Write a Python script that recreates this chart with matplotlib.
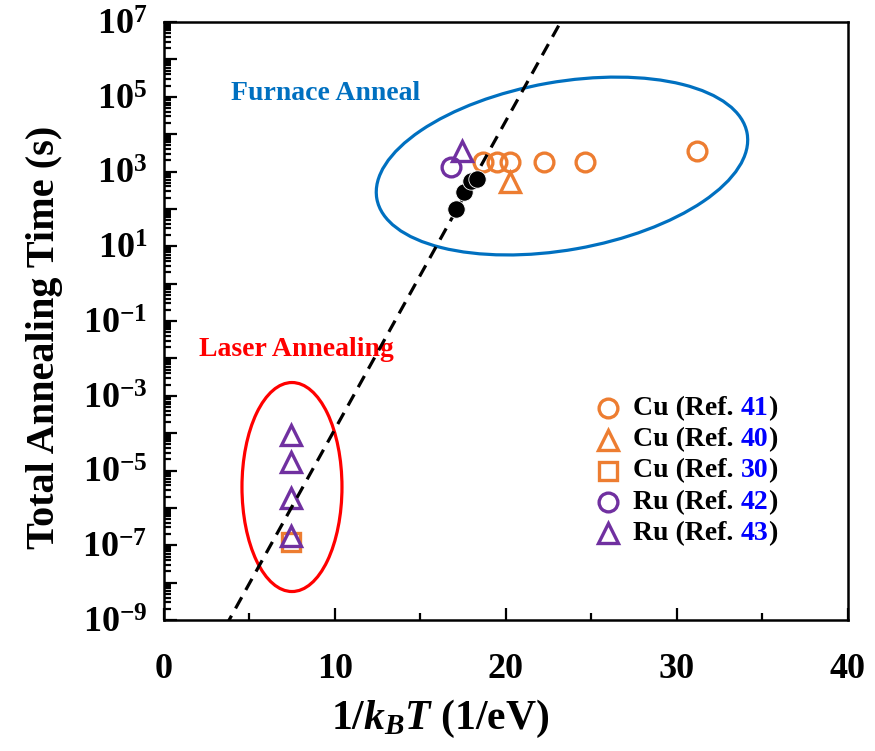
import numpy as np
import matplotlib
matplotlib.use('Agg')
import matplotlib.pyplot as plt
import matplotlib.transforms as mtransforms
from matplotlib.patches import Ellipse
from matplotlib.lines import Line2D
from matplotlib.ticker import LogLocator, FuncFormatter, MultipleLocator, NullFormatter
from matplotlib.offsetbox import AnchoredOffsetbox, HPacker, VPacker, TextArea, DrawingArea

plt.rcParams['font.family'] = ['Liberation Serif', 'DejaVu Serif']
plt.rcParams['font.weight'] = 'bold'
plt.rcParams['axes.labelweight'] = 'bold'
plt.rcParams['mathtext.fontset'] = 'custom'
plt.rcParams['mathtext.rm'] = 'Liberation Serif:bold'
plt.rcParams['mathtext.it'] = 'Liberation Serif:bold:italic'
plt.rcParams['mathtext.bf'] = 'Liberation Serif:bold'

ORANGE = '#ED7D31'
PURPLE = '#7030A0'
BLUE = '#0070C0'

# x = 1/kT (1/eV), t = total annealing time (s)
cu41_x = [18.65, 19.45, 20.25, 22.2, 24.6, 31.2]
cu41_t = [1800, 1800, 1800, 1800, 1800, 3600]
cu40_x = [20.25]
cu40_t = [540]
cu30_x = [7.45]
cu30_t = [1.2e-7]
ru42_x = [16.8]
ru42_t = [1300]
ru43_x = [17.4, 7.45, 7.45, 7.45, 7.45]
ru43_t = [3600, 9e-5, 1.7e-5, 1.8e-6, 1.8e-7]
fit_x = [17.1, 17.55, 17.95, 18.3]
fit_t = [100, 280, 560, 650]

# Arrhenius guide line t = t0*exp(Ea/kT)
Ea = 1.9
t0 = 7.2e-13

series = [
    (cu41_x, cu41_t, 'o', ORANGE, 'Cu', '41'),
    (cu40_x, cu40_t, '^', ORANGE, 'Cu', '40'),
    (cu30_x, cu30_t, 's', ORANGE, 'Cu', '30'),
    (ru42_x, ru42_t, 'o', PURPLE, 'Ru', '42'),
    (ru43_x, ru43_t, '^', PURPLE, 'Ru', '43'),
]
msize = {'o': 13.5, '^': 14, 's': 13}

fig = plt.figure(figsize=(8.75, 7.51), dpi=100)
ax = fig.add_axes([0.1874, 0.1744, 0.7817, 0.7963])
W, H = 0.7817*875, 0.7963*751
pix = mtransforms.Affine2D().scale(1/W, 1/H) + ax.transAxes

# guide line
xx = np.linspace(0, 40, 400)
ln, = ax.plot(xx, t0*np.exp(Ea*xx), color='k', lw=2.3, ls='--', zorder=4)
ln.set_dashes([4, 2.6])

# ellipses around the two regimes
ax.add_patch(Ellipse((398, 454), 376, 168, angle=10, transform=pix,
                     fill=False, ec=BLUE, lw=2.3, zorder=2))
ax.add_patch(Ellipse((128, 133), 100, 209, angle=0, transform=pix,
                     fill=False, ec='#FF0000', lw=2.3, zorder=2))
ax.text(0.237, 0.881, 'Furnace Anneal', color=BLUE, fontsize=20,
        ha='center', va='center', transform=ax.transAxes)
ax.text(0.193, 0.452, 'Laser Annealing', color='#FF0000', fontsize=20,
        ha='center', va='center', transform=ax.transAxes)

for x, t, m, c, _, _ in series:
    ax.plot(x, t, ls='none', marker=m, ms=msize[m], mfc='none', mec=c, mew=2.4, zorder=3)
ax.plot(fit_x, fit_t, ls='none', marker='o', ms=12.5, mfc='k', mec='w', mew=0.6, zorder=5)

ax.set_yscale('log')
ax.set_xlim(0, 40)
ax.set_ylim(1e-9, 1e7)
ax.xaxis.set_major_locator(MultipleLocator(10))
ax.xaxis.set_minor_locator(MultipleLocator(5))
ax.yaxis.set_major_locator(LogLocator(base=10, numticks=30))
ax.yaxis.set_minor_locator(LogLocator(base=10, subs=np.arange(2, 10), numticks=30))
ax.yaxis.set_minor_formatter(NullFormatter())


def ylab(v, pos):
    e = int(round(np.log10(v)))
    return f'10$^{{{e}}}$' if e % 2 else ''


ax.yaxis.set_major_formatter(FuncFormatter(ylab))
ax.tick_params(which='both', direction='in', width=1.6, labelsize=26)
ax.tick_params(which='major', length=9)
ax.tick_params(which='minor', length=5)
ax.tick_params(axis='x', pad=24)
ax.tick_params(axis='y', pad=12)
for s in ax.spines.values():
    s.set_linewidth(1.8)

ax.set_xlabel('1/$k_BT$ (1/eV)', fontsize=30)
ax.set_ylabel('Total Annealing Time (s)', fontsize=29)
ax.xaxis.set_label_coords(0.403, -0.13)
ax.yaxis.set_label_coords(-0.148, 0.473)

# legend with coloured reference numbers
rows = []
for _, _, m, c, metal, ref in series:
    da = DrawingArea(20, 20, 0, 0)
    da.add_artist(Line2D([10], [10], ls='none', marker=m, ms=msize[m], mfc='none', mec=c, mew=2.4))
    tp = dict(fontsize=20, fontweight='bold')
    txt = HPacker(children=[TextArea(f'{metal} (Ref.\u00a0', textprops=dict(color='k', **tp)),
                            TextArea(ref, textprops=dict(color='#0000FF', **tp)),
                            TextArea(')', textprops=dict(color='k', **tp))],
                  sep=0, pad=0, align='baseline')
    rows.append(HPacker(children=[da, txt], sep=8, pad=0, align='center'))
leg = AnchoredOffsetbox(loc='upper left', child=VPacker(children=rows, sep=2.5, pad=0, align='left'),
                        pad=0, borderpad=0, frameon=False,
                        bbox_to_anchor=(0.629, 0.377), bbox_transform=ax.transAxes)
ax.add_artist(leg)

fig.savefig('out.png', dpi=100)
